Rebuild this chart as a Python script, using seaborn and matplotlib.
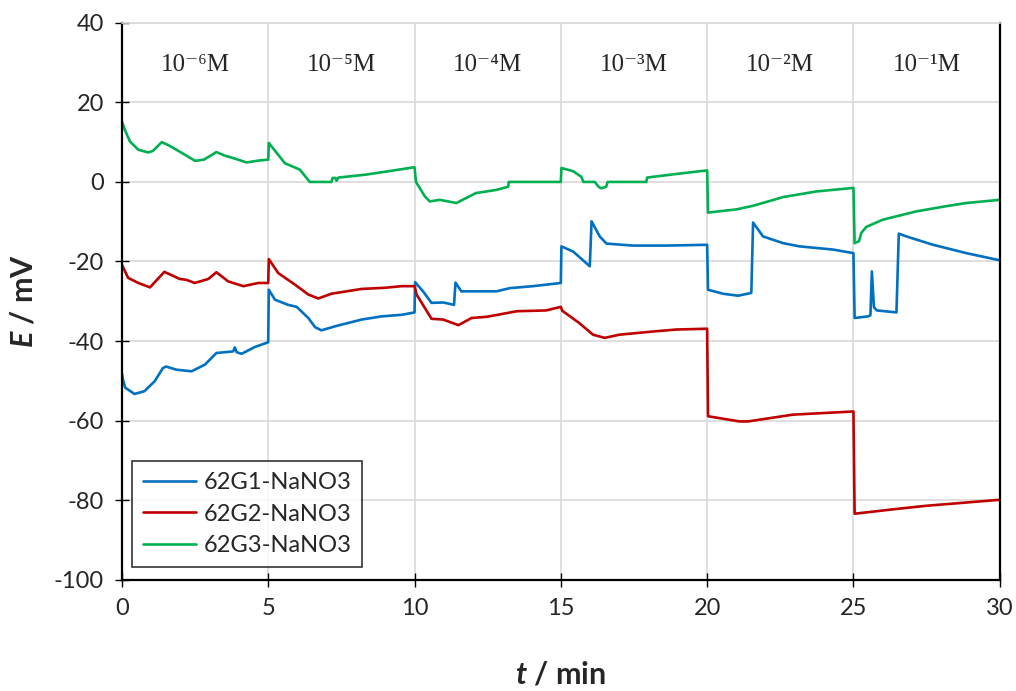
import numpy as np
import pandas as pd
import matplotlib
matplotlib.use("Agg")
import matplotlib.pyplot as plt
import seaborn as sns

# Data (t in min, E in mV)
t_g1 = [0, 0.03, 0.11, 0.43, 0.77, 1.12, 1.4, 1.51, 1.86, 2.38, 2.84, 3.23, 3.52, 3.8, 3.86, 3.92, 4.09, 4.54, 5.0,
        5.02, 5.23, 5.68, 5.97, 6.37, 6.6, 6.82, 7.28, 8.19, 8.87, 9.56, 10.0,
        10.02, 10.29, 10.58, 10.98, 11.35, 11.4, 11.6, 11.89, 12.8, 13.26, 14.05, 15.0,
        15.02, 15.42, 15.99, 16.05, 16.33, 16.56, 17.47, 18.6, 20.0,
        20.03, 20.54, 21.06, 21.51, 21.57, 21.91, 22.6, 23.16, 24.3, 25.0,
        25.04, 25.5, 25.58, 25.63, 25.7, 25.8, 26.47, 26.55, 26.81, 27.72, 28.86, 30.0]
e_g1 = [-48.0, -49.5, -51.7, -53.3, -52.6, -50.1, -46.8, -46.4, -47.2, -47.6, -45.9, -43.0, -42.8, -42.6, -41.6, -42.8, -43.2, -41.5, -40.3,
        -27.1, -29.6, -30.9, -31.4, -34.2, -36.5, -37.3, -36.3, -34.6, -33.8, -33.4, -32.8,
        -25.2, -27.5, -30.4, -30.3, -30.9, -25.3, -27.5, -27.5, -27.5, -26.7, -26.2, -25.4,
        -16.2, -17.5, -21.2, -9.9, -13.7, -15.5, -16.0, -16.0, -15.8,
        -27.1, -28.1, -28.6, -27.9, -10.2, -13.7, -15.4, -16.2, -17.0, -17.9,
        -34.2, -33.8, -33.5, -22.5, -31.5, -32.3, -32.8, -13.0, -13.7, -15.8, -17.9, -19.7]

t_g2 = [0, 0.21, 0.56, 0.96, 1.45, 1.98, 2.2, 2.49, 2.95, 3.23, 3.63, 4.15, 4.66, 5.0,
        5.02, 5.34, 5.91, 6.37, 6.71, 7.16, 8.19, 9.0, 9.56, 10.0,
        10.07, 10.58, 10.98, 11.5, 11.95, 12.47, 13.5, 14.5, 15.0,
        15.05, 15.6, 16.1, 16.5, 17.0, 18.15, 18.95, 20.0,
        20.03, 21.1, 21.4, 22.93, 25.0,
        25.04, 26.35, 27.5, 30.0]
e_g2 = [-20.8, -24.1, -25.4, -26.5, -22.6, -24.4, -24.6, -25.4, -24.4, -22.7, -25.0, -26.2, -25.4, -25.4,
        -19.4, -22.9, -25.8, -28.3, -29.3, -28.1, -26.9, -26.6, -26.2, -26.2,
        -28.3, -34.4, -34.6, -36.0, -34.2, -33.9, -32.5, -32.3, -31.4,
        -32.4, -35.3, -38.4, -39.2, -38.4, -37.6, -37.1, -36.9,
        -58.9, -60.2, -60.2, -58.5, -57.7,
        -83.4, -82.3, -81.4, -79.9]

t_g3 = [0, 0.1, 0.27, 0.56, 0.9, 1.06, 1.36, 1.6, 2.0, 2.5, 2.8, 3.23, 3.52, 3.8, 4.26, 4.7, 5.0,
        5.02, 5.57, 6.08, 6.42, 7.16, 7.2, 7.3, 7.33, 7.4, 8.3, 9.21, 10.0,
        10.05, 10.35, 10.52, 10.86, 11.43, 12.1, 12.8, 13.2,
        13.22, 15.0,
        15.02, 15.42, 15.7, 15.77, 16.16, 16.3, 16.39, 16.55, 16.6, 17.92, 17.95, 18.95, 20.0,
        20.03, 21.0, 21.57, 22.6, 23.73, 25.0,
        25.04, 25.19, 25.27, 25.44, 26.0, 27.15, 28.25, 28.86, 30.0]
e_g3 = [15.2, 13.1, 10.2, 8.1, 7.4, 7.8, 10.0, 9.2, 7.5, 5.3, 5.6, 7.5, 6.6, 6.0, 4.9, 5.4, 5.6,
        9.8, 4.7, 3.1, 0.0, 0.0, 1.0, 1.0, 0.3, 1.1, 1.8, 2.8, 3.7,
        0.0, -3.6, -4.9, -4.5, -5.3, -2.8, -2.0, -1.2,
        0.0, 0.0,
        3.5, 2.7, 1.3, 0.0, 0.0, -1.3, -1.6, -1.2, 0.0, 0.0, 1.1, 2.0, 2.9,
        -7.7, -6.9, -6.0, -3.8, -2.4, -1.5,
        -15.4, -14.9, -12.8, -11.3, -9.5, -7.4, -6.0, -5.3, -4.5]

series_names = ["62G1-NaNO3", "62G2-NaNO3", "62G3-NaNO3"]
colors = ["#0070C0", "#C00000", "#00B050"]

conc_x = [2.5, 7.5, 12.5, 17.5, 22.5, 27.5]
conc_labels = ["10⁻⁶M", "10⁻⁵M", "10⁻⁴M", "10⁻³M", "10⁻²M", "10⁻¹M"]

# Long-form table for seaborn
frames = []
for name, t, e in zip(series_names, [t_g1, t_g2, t_g3], [e_g1, e_g2, e_g3]):
    frames.append(pd.DataFrame({"t": t, "E": e, "series": name}))
df = pd.concat(frames, ignore_index=True)

sns.set_theme(style="white")
plt.rcParams["font.family"] = ["Lato", "DejaVu Sans"]
plt.rcParams["axes.unicode_minus"] = False
plt.rcParams["mathtext.fontset"] = "custom"
plt.rcParams["mathtext.it"] = "Lato:italic:bold"
plt.rcParams["mathtext.rm"] = "Lato:bold"

fig, ax = plt.subplots(figsize=(10.16, 6.91), dpi=100)
fig.subplots_adjust(left=0.120, right=0.984, top=0.967, bottom=0.161)

sns.lineplot(data=df, x="t", y="E", hue="series", palette=colors, sort=False,
             estimator=None, units="series", linewidth=1.9, ax=ax)

ax.set_xlim(0, 30)
ax.set_ylim(-100, 40)
ax.set_xticks(range(0, 31, 5))
ax.set_yticks(range(-100, 41, 20))
ax.grid(True, color="#d9d9d9", linewidth=1.2)
ax.set_axisbelow(True)

for side in ["left", "bottom", "right"]:
    ax.spines[side].set_color("black")
    ax.spines[side].set_linewidth(1.6)
ax.spines["top"].set_color("#d9d9d9")
ax.spines["top"].set_linewidth(1.2)

ax.tick_params(axis="both", direction="inout", length=10, width=1, color="black",
               labelsize=17, pad=8, left=True, bottom=True)

ax.set_xlabel(r"$\mathit{t}$ / min", fontsize=22, fontweight="bold", labelpad=30)
ax.set_ylabel(r"$\mathit{E}$ / mV", fontsize=22, fontweight="bold", labelpad=12)

for x, lab in zip(conc_x, conc_labels):
    ax.text(x, 29.5, lab, ha="center", va="center", fontsize=18,
            family=["Liberation Serif", "DejaVu Serif"])

leg = ax.legend(loc="lower left", bbox_to_anchor=(0.012, 0.023), borderaxespad=0,
                fontsize=17, frameon=True, fancybox=False, edgecolor="black",
                handlelength=2.25, handletextpad=0.3, labelspacing=0.45,
                borderpad=0.45, title=None)
leg.get_frame().set_linewidth(1.2)

fig.savefig("out.png", dpi=100)
